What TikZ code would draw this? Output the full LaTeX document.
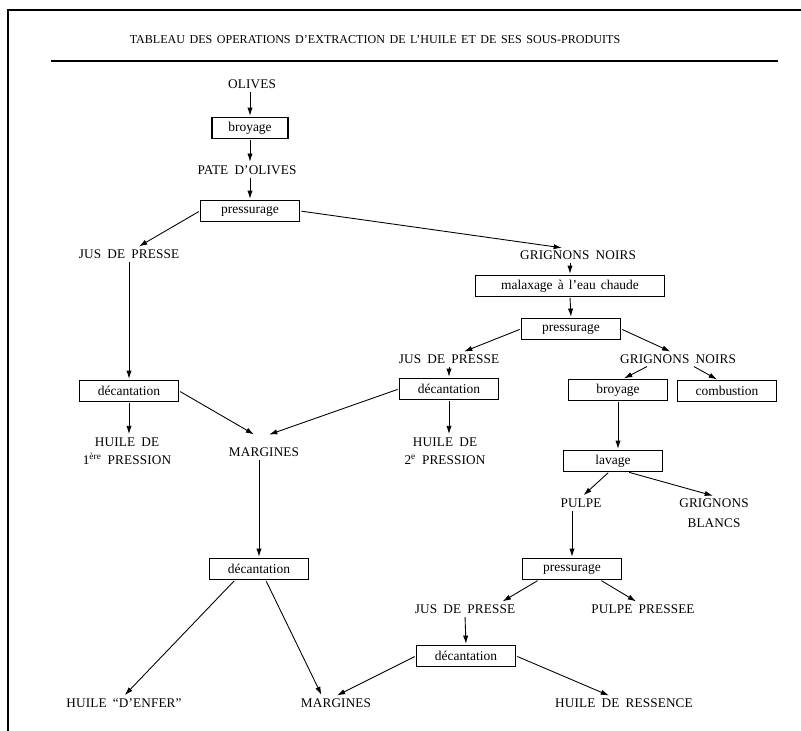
\documentclass[tikz,border=0pt]{standalone}
\usepackage{fontspec}
\setmainfont{Liberation Serif}
\newfontfamily\capsfont{Liberation Serif}[Ligatures=TeX,LetterSpace=1,WordSpace=1.8]
\newfontfamily\titlefont{Liberation Serif}[Ligatures=TeX,WordSpace=1.5]
\usetikzlibrary{arrows.meta}

\tikzset{
  prod/.style={inner sep=2pt, align=center, font=\capsfont\fontsize{11.3}{15}\selectfont},
  op/.style={draw, line width=1.2pt, inner sep=0pt, minimum width=2.97cm, minimum height=0.62cm,
    font=\fontsize{11.5}{13}\selectfont},
  flow/.style={-{Latex[length=7pt,width=4.5pt]}, line width=0.75pt, shorten <=1pt, shorten >=1pt}
}

\begin{document}
\begin{tikzpicture}[x=0.03cm,y=-0.03cm]

            \useasboundingbox (0,0) rectangle (801,731);

            \draw[line width=1pt] (801,10) -- (8,10) -- (8,731);
            \node (title) [font=\titlefont\fontsize{10.3}{12}\selectfont] at (375,40)
                {TABLEAU DES OPERATIONS D'EXTRACTION DE L'HUILE ET DE SES SOUS-PRODUITS};
            \draw[line width=1.3pt] (51,61) -- (778,61);

            \node (olives) [prod] at (252,84) {OLIVES};
            \node (broyA) [op, minimum width=2.28cm] at (250,128) {broyage};
            \node (pate) [prod] at (247,170) {PATE D'OLIVES};
            \node (pressA) [op] at (250,211) {pressurage};
            \node (jusA) [prod] at (129,254) {JUS DE PRESSE};
            \node (grnA) [prod] at (578,255) {GRIGNONS NOIRS};
            \node (malax) [op, minimum width=5.67cm] at (570,286) {malaxage à l'eau chaude};
            \node (pressB) [op] at (571,329) {pressurage};
            \node (jusB) [prod] at (449,359) {JUS DE PRESSE};
            \node (grnB) [prod] at (678,359) {GRIGNONS NOIRS};
            \node (decA) [op] at (129,391) {décantation};
            \node (decB) [op] at (449,389) {décantation};
            \node (broyB) [op] at (618,390) {broyage};
            \node (comb) [op] at (727,391) {combustion};
            \node (huileA) [prod] at (127,451) {HUILE DE\\1\textsuperscript{ère} PRESSION};
            \node (margA) [prod] at (264,452) {MARGINES};
            \node (huileB) [prod] at (445,451) {HUILE DE\\2\textsuperscript{e} PRESSION};
            \node (lavage) [op] at (613,461) {lavage};
            \node (pulpe) [prod] at (581,503) {PULPE};
            \node (grbl) [prod] at (714,513) {GRIGNONS\\[2pt]BLANCS};
            \node (decC) [op] at (259,569) {décantation};
            \node (pressC) [op] at (572,569) {pressurage};
            \node (jusC) [prod] at (465,609) {JUS DE PRESSE};
            \node (pp) [prod] at (643,609) {PULPE PRESSEE};
            \node (decD) [op] at (466,656) {décantation};
            \node (enfer) [prod] at (124,703) {HUILE “D'ENFER”};
            \node (margB) [prod] at (336,703) {MARGINES};
            \node (ressence) [prod] at (624,703) {HUILE DE RESSENCE};

            \draw[flow] (olives.south -| broyA.north) -- (broyA.north);
            \draw[flow] (broyA.south) -- (pate.north -| broyA.south);
            \draw[flow] (pate.south -| pressA.north) -- (pressA.north);
            \draw[flow] (pressA.west) -- ([xshift=0.27cm]jusA.north);
            \draw[flow] (pressA.east) -- ([xshift=-0.45cm]grnA.north);
            \draw[flow] (grnA.south -| malax.north) -- (malax.north);
            \draw[flow] (malax.south) -- (pressB.north);
            \draw[flow] (pressB.west) -- ([xshift=0.42cm]jusB.north);
            \draw[flow] (pressB.east) -- ([xshift=-0.2cm]grnB.north);
            \draw[flow] ([xshift=-0.9cm]grnB.south) -- ([xshift=0.15cm]broyB.north);
            \draw[flow] ([xshift=0.45cm]grnB.south) -- ([xshift=-0.27cm]comb.north);

            \draw[flow] (jusA.south) -- (decA.north);
            \draw[flow] (decA.south) -- (huileA.north -| decA.south);
            \draw[flow] (decA.east) -- ([shift={(-0.27cm,0.3cm)}]margA.north);
            \draw[flow] (decB.west) -- ([shift={(0.12cm,0.3cm)}]margA.north);
            \draw[flow] (jusB.south) -- (decB.north);
            \draw[flow] (decB.south) -- (huileB.north -| decB.south);

            \draw[flow] (broyB.south) -- (lavage.north -| broyB.south);
            \draw[flow] ([xshift=-0.12cm]lavage.south) -- ([xshift=0.05cm]pulpe.north);
            \draw[flow] ([xshift=0.45cm]lavage.south) -- (grbl.north);
            \draw[flow] (pulpe.south -| pressC.north) -- (pressC.north);
            \draw[flow] ([xshift=-1cm]pressC.south) -- ([xshift=1.1cm]jusC.north);
            \draw[flow] ([xshift=0.85cm]pressC.south) -- ([xshift=-0.18cm]pp.north);
            \draw[flow] (jusC.south) -- (decD.north);
            \draw[flow] (decD.east) -- ([xshift=-0.42cm]ressence.north);
            \draw[flow] (decD.west) -- (margB.north);

            \draw[flow] (margA.south -| decC.north) -- (decC.north);
            \draw[flow] ([xshift=-0.72cm]decC.south) -- (enfer.north);
            \draw[flow] ([xshift=0.2cm]decC.south) -- ([xshift=-0.42cm]margB.north);

        \end{tikzpicture}
\end{document}
